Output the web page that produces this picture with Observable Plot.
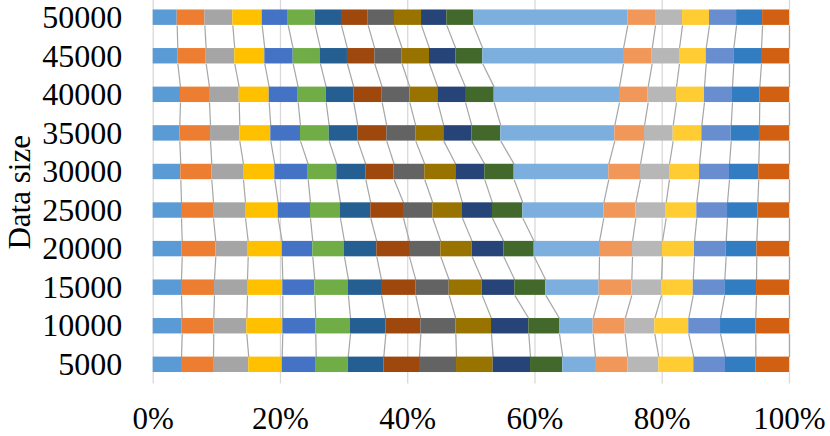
<!DOCTYPE html>
<html>
<head>
<meta charset="utf-8">
<script src="https://cdn.jsdelivr.net/npm/d3@7"></script>
<script src="https://cdn.jsdelivr.net/npm/@observablehq/plot@0.6"></script>
<style>
  html, body { margin: 0; padding: 0; background: #fff; }
  #chart { width: 830px; height: 436px; }
</style>
</head>
<body>
<div id="chart"></div>
<script>
// Categories (bottom to top)
const sizes = ["5000", "10000", "15000", "20000", "25000", "30000", "35000", "40000", "45000", "50000"];

// Segment shares (%) per data size, 19 series, left to right
const r5000  = [4.45, 5.03, 5.54, 5.25, 5.35, 5.03, 5.59, 5.61, 5.82, 5.76, 5.87, 5.07, 5.14, 5.08, 4.87, 5.50, 4.98, 4.77, 5.29];
const r10000 = [4.56, 4.96, 5.19, 5.66, 5.18, 5.46, 5.55, 5.50, 5.50, 5.61, 5.86, 4.83, 5.29, 5.03, 4.65, 5.34, 4.99, 5.54, 5.30];
const r15000 = [4.45, 5.18, 5.19, 5.55, 5.03, 5.29, 5.19, 5.39, 5.25, 5.19, 5.12, 4.87, 8.39, 5.13, 4.67, 4.98, 4.96, 4.99, 5.18];
const r20000 = [4.56, 5.28, 5.09, 5.34, 4.81, 4.98, 5.08, 5.14, 4.92, 4.93, 4.97, 4.78, 10.26, 5.19, 4.71, 5.03, 4.98, 4.81, 5.14];
const r25000 = [4.45, 5.03, 5.03, 5.13, 5.08, 4.71, 4.77, 5.14, 4.60, 4.67, 4.71, 4.77, 12.73, 5.03, 4.77, 4.81, 4.83, 4.76, 4.98];
const r30000 = [4.34, 4.87, 4.98, 4.92, 5.25, 4.49, 4.56, 4.46, 4.81, 4.88, 4.55, 4.62, 14.87, 4.98, 4.56, 4.72, 4.71, 4.60, 4.83];
const r35000 = [4.18, 4.83, 4.60, 4.87, 4.67, 4.51, 4.50, 4.55, 4.56, 4.40, 4.40, 4.56, 17.91, 4.67, 4.51, 4.50, 4.62, 4.44, 4.72];
const r40000 = [4.29, 4.56, 4.67, 4.71, 4.56, 4.40, 4.34, 4.46, 4.34, 4.40, 4.35, 4.51, 19.69, 4.51, 4.45, 4.40, 4.40, 4.29, 4.67];
const r45000 = [3.87, 4.46, 4.49, 4.72, 4.46, 4.29, 4.24, 4.30, 4.30, 4.29, 4.14, 4.24, 22.11, 4.51, 4.29, 4.20, 4.34, 4.35, 4.40];
const r50000 = [3.77, 4.34, 4.40, 4.62, 4.09, 4.24, 4.13, 4.20, 4.13, 4.25, 3.97, 4.20, 24.25, 4.36, 4.24, 4.24, 4.25, 4.09, 4.23];

const rows = [r5000, r10000, r15000, r20000, r25000, r30000, r35000, r40000, r45000, r50000];

const colors = ["#5B9BD5", "#ED7D31", "#A5A5A5", "#FFC000", "#4472C4", "#70AD47", "#255E91", "#9E480E",
                "#636363", "#997300", "#264478", "#43682B", "#7CAFDD", "#F1975A", "#B7B7B7", "#FFCD33",
                "#698ED0", "#327DC2", "#D26012"];

const xTicks = [0, 20, 40, 60, 80, 100];

// Build normalized stacked table
const segs = [];
const cums = [];
rows.forEach((vals, i) => {
  const total = d3.sum(vals);
  let acc = 0;
  const c = [0];
  vals.forEach((v, j) => {
    const x1 = acc / total * 100;
    acc += v;
    const x2 = acc / total * 100;
    segs.push({row: i, s: j, x1, x2});
    c.push(x2);
  });
  cums.push(c);
});

const half = 0.2;
const links = [];
for (let i = 0; i < rows.length - 1; i++) {
  for (let j = 1; j < cums[i].length; j++) {
    links.push({x1: cums[i][j], y1: i + half, x2: cums[i + 1][j], y2: i + 1 - half});
  }
}

const font = "'Liberation Serif', 'Times New Roman', serif";

const chart = Plot.plot({
  width: 830,
  height: 436,
  marginLeft: 152.7,
  marginRight: 41,
  marginTop: 0,
  marginBottom: 52.4,
  style: {fontFamily: font, fontSize: "32px", background: "#fff", color: "#000"},
  x: {domain: [0, 100]},
  y: {domain: [-0.5, 9.5], range: [383.6, -2.1]},
  marks: [
    Plot.ruleX(xTicks, {stroke: "#d9d9d9", strokeWidth: 1.3}),
    Plot.link(links, {x1: "x1", y1: "y1", x2: "x2", y2: "y2", stroke: "#a6a6a6", strokeWidth: 1.2}),
    Plot.rect(segs, {x1: "x1", x2: "x2", y1: d => d.row - half, y2: d => d.row + half, fill: d => colors[d.s]}),
    Plot.axisX({ticks: xTicks, tickFormat: d => d + "%", tickSize: 0, tickPadding: 23, fontSize: 31, label: null}),
    Plot.axisY({ticks: d3.range(sizes.length), tickFormat: i => sizes[i], tickSize: 0, tickPadding: 31, fontSize: 32, label: null}),
    Plot.text(["Data size"], {frameAnchor: "left", dx: -133, rotate: -90, fontSize: 31, textAnchor: "middle", lineAnchor: "middle", fill: "#000"})
  ]
});

document.getElementById("chart").appendChild(chart);
</script>
</body>
</html>
